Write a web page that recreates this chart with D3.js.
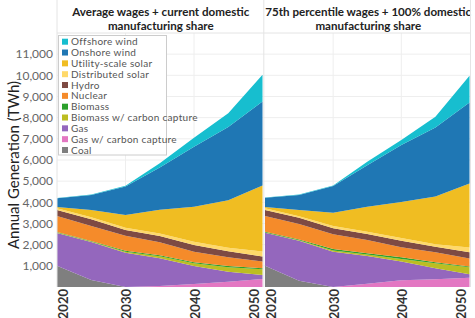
<!DOCTYPE html>
<html lang="en">
<head>
<meta charset="UTF-8">
<title>Annual generation by source</title>
<script src="https://d3js.org/d3.v7.min.js"></script>
<style>
    body { margin: 0; background: #fff; }
    svg { font-family: Lato, sans-serif; display: block; }
    .ylab { font-size: 12px; fill: #666; }
    .xlab { font-size: 13px; font-weight: bold; fill: #333; }
    .title { font-size: 11.6px; font-weight: bold; fill: #222; }
    .leg { font-size: 10px; letter-spacing: 0.3px; fill: #555; }
</style>
</head>
<body>
<div id="chart"></div>
<script>
    const years = [2020, 2025, 2030, 2035, 2040, 2045, 2050];
    const keys = ["Coal", "Gas w/ carbon capture", "Gas", "Biomass w/ carbon capture", "Biomass",
                  "Nuclear", "Hydro", "Distributed solar", "Utility-scale solar", "Onshore wind", "Offshore wind"];
    const colors = ["#7f7f7f", "#e377c2", "#9467bd", "#bcbd22", "#2ca02c",
                    "#f58b2a", "#7e4a43", "#ffd96a", "#f0bd22", "#1f77b4", "#17becf"];
    const yTicks = [1000, 2000, 3000, 4000, 5000, 6000, 7000, 8000, 9000, 10000, 11000];
    const xTicks = [2020, 2030, 2040, 2050];

    // left panel: average wages + current domestic manufacturing share (TWh)
    const coalA      = [1000, 330, 0, 0, 0, 0, 0];
    const gasCcsA    = [0, 0, 0, 50, 140, 250, 380];
    const gasA       = [1550, 1795, 1620, 1305, 850, 470, 190];
    const bioCcsA    = [20, 25, 40, 95, 130, 210, 270];
    const bioA       = [30, 25, 50, 50, 50, 60, 40];
    const nuclearA   = [750, 705, 710, 620, 500, 410, 320];
    const hydroA     = [290, 320, 270, 290, 310, 290, 240];
    const distSolA   = [80, 100, 110, 120, 160, 160, 240];
    const utilSolA   = [60, 340, 600, 1120, 1650, 2250, 3110];
    const onshoreA   = [410, 705, 1350, 2000, 2840, 3460, 3970];
    const offshoreA  = [10, 25, 30, 200, 420, 650, 1265];

    // right panel: 75th percentile wages + 100% domestic manufacturing share (TWh)
    const coalB      = [1000, 300, 0, 0, 0, 0, 0];
    const gasCcsB    = [0, 0, 0, 150, 320, 370, 440];
    const gasB       = [1565, 1890, 1670, 1310, 880, 510, 160];
    const bioCcsB    = [15, 20, 60, 80, 120, 240, 330];
    const bioB       = [30, 30, 70, 50, 80, 50, 40];
    const nuclearB   = [740, 740, 690, 630, 480, 470, 380];
    const hydroB     = [290, 290, 280, 280, 300, 260, 290];
    const distSolB   = [80, 70, 110, 110, 140, 120, 230];
    const utilSolB   = [60, 300, 630, 1180, 1690, 2250, 3020];
    const onshoreB   = [440, 710, 1260, 1960, 2700, 3270, 3830];
    const offshoreB  = [10, 20, 30, 170, 230, 500, 1265];

    const seriesA = [coalA, gasCcsA, gasA, bioCcsA, bioA, nuclearA, hydroA, distSolA, utilSolA, onshoreA, offshoreA];
    const seriesB = [coalB, gasCcsB, gasB, bioCcsB, bioB, nuclearB, hydroB, distSolB, utilSolB, onshoreB, offshoreB];

    function toRows(series) {
        return years.map((yr, i) => {
            const row = {year: yr};
            keys.forEach((k, j) => row[k] = series[j][i]);
            return row;
        });
    }

    const panels = [
        {title: ["Average wages + current domestic", "manufacturing share"], range: [57, 262.5], rows: toRows(seriesA)},
        {title: ["75th percentile wages + 100% domestic", "manufacturing share"], range: [265, 469.5], rows: toRows(seriesB)}
    ];

    const width = 475, height = 318;
    const plotTop = 33, plotBottom = 287;

    const svg = d3.select("#chart")
        .append("svg")
        .attr("width", width)
        .attr("height", height);

    const y = d3.scaleLinear().domain([0, 12000]).range([plotBottom, plotTop]);

    // horizontal grid
    svg.append("g")
        .selectAll("line")
        .data(yTicks)
        .enter().append("line")
        .attr("x1", 57).attr("x2", 470)
        .attr("y1", d => y(d)).attr("y2", d => y(d))
        .attr("stroke", "#eeeeee");

    // y axis labels
    svg.append("g")
        .selectAll("text")
        .data(yTicks)
        .enter().append("text")
        .attr("class", "ylab")
        .attr("x", 53)
        .attr("y", d => y(d))
        .attr("dy", "0.35em")
        .attr("text-anchor", "end")
        .text(d => d3.format(",")(d));

    svg.append("text")
        .attr("transform", `translate(19,${(plotTop + plotBottom) / 2 + 5}) rotate(-90)`)
        .attr("text-anchor", "middle")
        .style("font-size", "15px")
        .style("fill", "#222")
        .text("Annual Generation (TWh)");

    const stack = d3.stack().keys(keys);

    panels.forEach(p => {
        const x = d3.scaleLinear().domain([2020, 2050]).range(p.range);
        const g = svg.append("g");

        // vertical grid
        g.selectAll("line.vgrid")
            .data([2030, 2040])
            .enter().append("line")
            .attr("class", "vgrid")
            .attr("x1", d => x(d)).attr("x2", d => x(d))
            .attr("y1", plotTop).attr("y2", plotBottom)
            .attr("stroke", "#eeeeee");

        const area = d3.area()
            .x(d => x(d.data.year))
            .y0(d => y(d[0]))
            .y1(d => y(d[1]));

        g.selectAll("path.layer")
            .data(stack(p.rows))
            .enter().append("path")
            .attr("class", "layer")
            .attr("d", area)
            .attr("fill", (d, i) => colors[i]);

        // title
        const cx = (p.range[0] + p.range[1]) / 2 + 1;
        g.selectAll("text.title")
            .data(p.title)
            .enter().append("text")
            .attr("class", "title")
            .attr("x", cx)
            .attr("y", (d, i) => 15.5 + i * 14)
            .attr("text-anchor", "middle")
            .text(d => d);

        // x labels
        g.selectAll("text.xlab")
            .data(xTicks)
            .enter().append("text")
            .attr("class", "xlab")
            .attr("transform", (d, i) => {
                const off = i === 0 ? 6 : (i === xTicks.length - 1 ? -8 : 1);
                return `translate(${x(d) + off},${plotBottom + 2}) rotate(-90)`;
            })
            .attr("dy", "0.35em")
            .attr("text-anchor", "end")
            .text(d => d);
    });

    // panel frame lines
    svg.append("line").attr("x1", 57).attr("x2", 471).attr("y1", plotTop).attr("y2", plotTop).attr("stroke", "#e4e4e4");
    [57, 263.8, 470.5].forEach(xv => {
        svg.append("line").attr("x1", xv).attr("x2", xv).attr("y1", 0).attr("y2", plotBottom)
            .attr("stroke", "#e4e4e4");
    });

    // legend
    const legend = svg.append("g");
    legend.append("rect")
        .attr("x", 58.5).attr("y", 35.5)
        .attr("width", 108).attr("height", 119.5)
        .attr("fill", "#fff")
        .attr("stroke", "#cccccc");
    const legendKeys = keys.slice().reverse();
    const legendColors = colors.slice().reverse();
    legendKeys.forEach((k, i) => {
        const ly = 41.7 + i * 10.83;
        legend.append("rect")
            .attr("x", 62).attr("y", ly - 3)
            .attr("width", 6).attr("height", 6)
            .attr("fill", legendColors[i]);
        legend.append("text")
            .attr("class", "leg")
            .attr("x", 71).attr("y", ly)
            .attr("dy", "0.35em")
            .text(k);
    });
</script>
</body>
</html>
